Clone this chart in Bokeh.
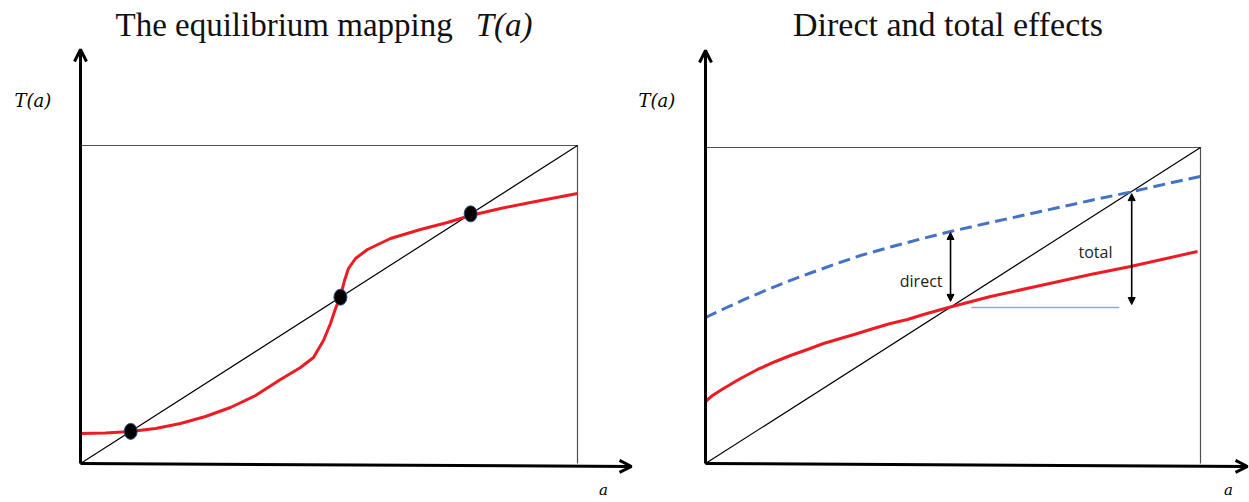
from bokeh.plotting import figure
from bokeh.layouts import row
from bokeh.models import Arrow, OpenHead, NormalHead, Range1d
from bokeh.core.properties import value
from bokeh.embed import file_html
from bokeh.resources import INLINE

# ---------------- data (unit box: a in [0,1], T in [0,1]) ----------------
# Panel 1: equilibrium mapping T(a)
eq_a = [0.0, 0.0503, 0.1006, 0.1509, 0.2012, 0.2515, 0.3018, 0.3521, 0.4024, 0.4427,
        0.4688, 0.4889, 0.5030, 0.5131, 0.5231, 0.5312, 0.5392, 0.5533, 0.5775, 0.6237,
        0.6841, 0.7384, 0.7847, 0.8451, 0.9054, 1.0]
eq_T = [0.0943, 0.0959, 0.1006, 0.1101, 0.1258, 0.1478, 0.1761, 0.2138, 0.2642, 0.3019,
        0.3333, 0.3868, 0.4403, 0.4874, 0.5252, 0.5755, 0.6132, 0.6447, 0.6730, 0.7075,
        0.7358, 0.7579, 0.7799, 0.8019, 0.8208, 0.8491]
fixed_a = [0.101, 0.523, 0.785]
fixed_T = [0.101, 0.523, 0.785]

diag_a = [0.0, 1.0]
diag_T = [0.0, 1.0]
box_a = [0.0, 1.0, 1.0]
box_T = [1.0, 1.0, 0.0]

# Panel 2: direct and total effects
shifted_a = [0.0, 0.0404, 0.0808, 0.1212, 0.1657, 0.2121, 0.2626, 0.3131, 0.3737, 0.4343,
             0.4949, 0.5758, 0.6768, 0.7778, 0.8586, 0.9293, 1.0]
shifted_T = [0.4620, 0.4921, 0.5206, 0.5475, 0.5759, 0.6028, 0.6313, 0.6582, 0.6851, 0.7104,
             0.7342, 0.7627, 0.7975, 0.8323, 0.8592, 0.8845, 0.9082]
base_a = [0.0, 0.0141, 0.0364, 0.0707, 0.1051, 0.1414, 0.1717, 0.2061, 0.2384, 0.2727,
          0.3071, 0.3394, 0.3737, 0.4081, 0.4404, 0.4909, 0.5758, 0.6768, 0.7778, 0.8586, 0.9939]
base_T = [0.1962, 0.2152, 0.2373, 0.2690, 0.2975, 0.3228, 0.3418, 0.3608, 0.3797, 0.3956,
          0.4114, 0.4272, 0.4430, 0.4557, 0.4715, 0.4937, 0.5285, 0.5633, 0.5981, 0.6234, 0.6709]

direct_a = 0.495
direct_T = [0.731, 0.513]
total_a = 0.861
total_T = [0.854, 0.503]
level_a = [0.537, 0.836]
level_T = [0.494, 0.494]

titles = ["The equilibrium mapping", "Direct and total effects"]
title_math = "T(a)"
y_label = "T(a)"
x_label = "a"
effect_labels = ["direct", "total"]

# ---------------- layout (page pixels) ----------------
FIG_Y, FIG_H = 0, 502
LEFT = dict(fx=0, fw=635, ox=80, oy=463, bw=497, bh=318)
RIGHT = dict(fx=635, fw=614, ox=705, oy=463, bw=495, bh=316)

RED = "#ED1C24"
BLUE = "#4472C4"
LIGHTBLUE = "#8EA9DB"
SERIF = "Liberation Serif"
TITLE_Y = 24
XLABEL_Y = 489


def X(P, px):
    return (px - P["ox"]) / P["bw"]


def Y(P, py):
    return (P["oy"] - py) / P["bh"]


def make_fig(P):
    p = figure(width=P["fw"], height=FIG_H, output_backend="svg", toolbar_location=None,
               x_axis_location=None, y_axis_location=None,
               x_range=Range1d(X(P, P["fx"]), X(P, P["fx"] + P["fw"])),
               y_range=Range1d(Y(P, FIG_Y + FIG_H), Y(P, FIG_Y)),
               min_border=0, min_border_left=0, min_border_right=0,
               min_border_top=0, min_border_bottom=0)
    p.title.visible = False
    p.grid.visible = False
    p.outline_line_color = None
    p.background_fill_color = "white"
    p.border_fill_color = "white"
    p.line(box_a, box_T, line_color="#505050", line_width=1.2)
    p.line(diag_a, diag_T, line_color="black", line_width=1.2)
    return p


def add_axes(p, P, ytip_py, xtip_px, xtip_py):
    p.add_layout(Arrow(end=OpenHead(size=12, line_width=3, line_color="black"),
                       x_start=0, y_start=0, x_end=0, y_end=Y(P, ytip_py),
                       line_width=3, line_color="black"))
    p.add_layout(Arrow(end=OpenHead(size=12, line_width=3, line_color="black"),
                       x_start=0, y_start=0, x_end=X(P, xtip_px), y_end=Y(P, xtip_py),
                       line_width=3, line_color="black"))


# ---------------- left panel ----------------
p1 = make_fig(LEFT)
add_axes(p1, LEFT, 49, 631, 466)
p1.line(eq_a, eq_T, line_color=RED, line_width=3, line_join="round")
p1.ellipse(fixed_a, fixed_T, width=13, height=16, width_units="screen", height_units="screen",
           fill_color="black", line_color="#2F4F7F", line_width=1)
p1.text([X(LEFT, 115)], [Y(LEFT, TITLE_Y)], text=[titles[0]], text_font=value(SERIF),
        text_font_size="33px", text_align="left", text_baseline="middle", text_color="#111111")
p1.text([X(LEFT, 532)], [Y(LEFT, TITLE_Y)], text=[title_math], text_font=value(SERIF),
        text_font_style="italic", text_font_size="33px", text_align="right",
        text_baseline="middle", text_color="#111111")
p1.text([X(LEFT, 14)], [Y(LEFT, 100)], text=[y_label], text_font=value("DejaVu Serif"),
        text_font_style="italic", text_font_size="18px", text_align="left", text_baseline="middle")
p1.text([X(LEFT, 603)], [Y(LEFT, XLABEL_Y)], text=[x_label], text_font=value("DejaVu Serif"),
        text_font_style="italic", text_font_size="15px", text_align="center",
        text_baseline="middle")

# ---------------- right panel ----------------
p2 = make_fig(RIGHT)
add_axes(p2, RIGHT, 50, 1247, 466)
p2.line(shifted_a, shifted_T, line_color=BLUE, line_width=3, line_dash="12 6")
p2.line(base_a, base_T, line_color=RED, line_width=3, line_join="round")
p2.line(level_a, level_T, line_color=LIGHTBLUE, line_width=1.5)
for a, T in [(direct_a, direct_T), (total_a, total_T)]:
    p2.add_layout(Arrow(start=NormalHead(size=7, fill_color="black", line_color="black"),
                        end=NormalHead(size=7, fill_color="black", line_color="black"),
                        x_start=a, y_start=T[0], x_end=a, y_end=T[1],
                        line_width=1.6, line_color="black"))
p2.text([X(RIGHT, 947.5)], [Y(RIGHT, TITLE_Y)], text=[titles[1]], text_font=value(SERIF),
        text_font_size="34px", text_align="center", text_baseline="middle", text_color="#111111")
p2.text([X(RIGHT, 638)], [Y(RIGHT, 100)], text=[y_label], text_font=value("DejaVu Serif"),
        text_font_style="italic", text_font_size="18px", text_align="left", text_baseline="middle")
p2.text([X(RIGHT, 1228)], [Y(RIGHT, XLABEL_Y)], text=[x_label], text_font=value("DejaVu Serif"),
        text_font_style="italic", text_font_size="15px", text_align="center",
        text_baseline="middle")
p2.text([X(RIGHT, 942)], [Y(RIGHT, 280)], text=[effect_labels[0]], text_font=value("Open Sans"),
        text_font_size="16px", text_align="right", text_baseline="middle", text_color="#222222")
p2.text([X(RIGHT, 1078)], [Y(RIGHT, 251)], text=[effect_labels[1]], text_font=value("Open Sans"),
        text_font_size="16px", text_align="left", text_baseline="middle", text_color="#222222")

layout = row(p1, p2, spacing=0)
open("out.html", "w").write(file_html(layout, INLINE))
